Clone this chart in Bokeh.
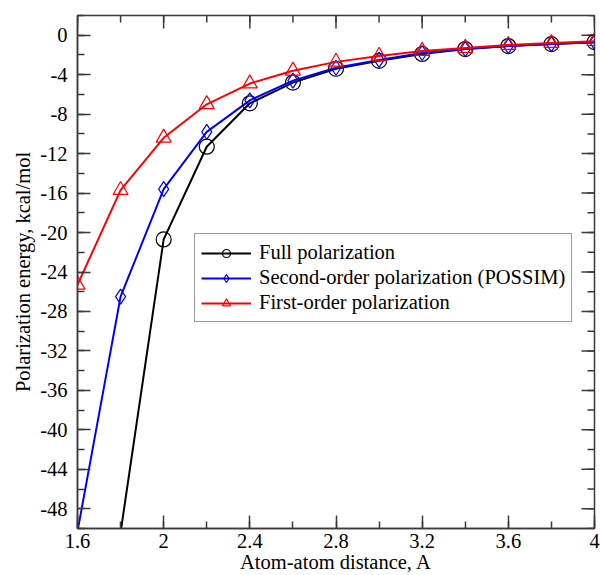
import math
from bokeh.plotting import figure
from bokeh.models import (Range1d, FixedTicker, LinearAxis, Legend, LegendItem,
                          ColumnDataSource, CDSView, BooleanFilter)
from bokeh.embed import file_html
from bokeh.resources import INLINE

# ---------------- data ----------------
distance = [1.6, 1.8, 2.0, 2.2, 2.4, 2.6, 2.8, 3.0, 3.2, 3.4, 3.6, 3.8, 4.0]
full_pol = [float("nan"), -50.4, -20.7, -11.3, -6.9, -4.8, -3.4, -2.6, -1.9, -1.4, -1.1, -0.9, -0.7]
second_pol = [-50.3, -26.5, -15.6, -9.8, -6.6, -4.6, -3.3, -2.5, -1.8, -1.4, -1.1, -0.9, -0.7]
first_pol = [-25.3, -15.7, -10.4, -7.0, -4.9, -3.6, -2.7, -2.1, -1.6, -1.3, -1.0, -0.8, -0.6]

series_names = ["Full polarization", "Second-order polarization (POSSIM)", "First-order polarization"]

x_title = "Atom-atom distance, A"
y_title = "Polarization energy, kcal/mol"

x_ticks = [1.6, 2.0, 2.4, 2.8, 3.2, 3.6, 4.0]
x_tick_labels = ["1.6", "2", "2.4", "2.8", "3.2", "3.6", "4"]
x_minor = [1.6, 1.8, 2.0, 2.2, 2.4, 2.6, 2.8, 3.0, 3.2, 3.4, 3.6, 3.8, 4.0]
y_ticks = [-48, -44, -40, -36, -32, -28, -24, -20, -16, -12, -8, -4, 0]
y_tick_labels = ["-48", "-44", "-40", "-36", "-32", "-28", "-24", "-20", "-16", "-12", "-8", "-4", "0"]
y_minor = [-50, -48, -46, -44, -42, -40, -38, -36, -34, -32, -30, -28, -26, -24, -22, -20,
           -18, -16, -14, -12, -10, -8, -6, -4, -2, 0, 2]

X_MIN, X_MAX = 1.6, 4.0
Y_MIN, Y_MAX = -50, 2

FONT = "Liberation Serif"
FSIZE = "20.5px"
FRAME = "#3a3a3a"
MAJOR_LEN, MINOR_LEN = 13, 7

p = figure(width=600, height=575, title=None,
           min_border_left=77, min_border_right=6, min_border_top=15, min_border_bottom=47,
           x_range=Range1d(X_MIN, X_MAX), y_range=Range1d(Y_MIN, Y_MAX),
           output_backend="svg", toolbar_location=None, x_axis_location=None,
           y_axis_location=None)
p.grid.visible = False
p.outline_line_color = FRAME
p.outline_line_width = 1.5
p.background_fill_color = "white"
p.border_fill_color = "white"


def style_axis(ax, ticks, minor, labels, title):
    ax.ticker = FixedTicker(ticks=ticks, minor_ticks=minor)
    ax.axis_line_color = FRAME
    ax.axis_line_width = 1.5
    ax.major_tick_line_color = FRAME
    ax.minor_tick_line_color = FRAME
    ax.major_tick_line_width = 1.5
    ax.minor_tick_line_width = 1.5
    ax.major_tick_in = MAJOR_LEN
    ax.major_tick_out = 0
    ax.minor_tick_in = MINOR_LEN
    ax.minor_tick_out = 0
    ax.major_label_overrides = {t: l for t, l in zip(ticks, labels)}
    ax.major_label_text_font = FONT
    ax.major_label_text_font_size = FSIZE
    ax.major_label_text_color = "black"
    ax.axis_label = title
    ax.axis_label_text_font = FONT
    ax.axis_label_text_font_size = FSIZE
    ax.axis_label_text_font_style = "normal"
    ax.axis_label_text_color = "black"


xb = LinearAxis(); style_axis(xb, x_ticks, x_minor, x_tick_labels, x_title)
xb.major_label_standoff = 5
xb.axis_label_standoff = 0
yl = LinearAxis(); style_axis(yl, y_ticks, y_minor, y_tick_labels, y_title)
yl.major_label_standoff = 10
yl.axis_label_standoff = 3
p.add_layout(xb, "below")
p.add_layout(yl, "left")

# mirrored inward ticks on the top and right edges (half of each dash is clipped by the frame)
top_major = ColumnDataSource(dict(x=x_ticks, y=[Y_MAX] * len(x_ticks)))
top_minor = ColumnDataSource(dict(x=x_minor, y=[Y_MAX] * len(x_minor)))
right_major = ColumnDataSource(dict(x=[X_MAX] * len(y_ticks), y=y_ticks))
right_minor = ColumnDataSource(dict(x=[X_MAX] * len(y_minor), y=y_minor))
p.scatter("x", "y", source=top_major, marker="dash", angle=math.pi / 2, size=2 * MAJOR_LEN,
          line_color=FRAME, line_width=1.5)
p.scatter("x", "y", source=top_minor, marker="dash", angle=math.pi / 2, size=2 * MINOR_LEN,
          line_color=FRAME, line_width=1.5)
p.scatter("x", "y", source=right_major, marker="dash", size=2 * MAJOR_LEN,
          line_color=FRAME, line_width=1.5)
p.scatter("x", "y", source=right_minor, marker="dash", size=2 * MINOR_LEN,
          line_color=FRAME, line_width=1.5)

colors = ["black", "#0000ff", "#ff0000"]
markers = ["circle", "diamond", "triangle"]
items = []
for ys, name, col, mk in zip([full_pol, second_pol, first_pol], series_names, colors, markers):
    src = ColumnDataSource(dict(x=distance, y=ys))
    lr = p.line("x", "y", source=src, line_color=col, line_width=2)
    inside = [(not math.isnan(v)) and v >= Y_MIN for v in ys]
    view = CDSView(filter=BooleanFilter(inside))
    sr = p.scatter("x", "y", source=src, view=view, marker=mk, size=15,
                   fill_color=None, line_color=col, line_width=1.2)
    items.append(LegendItem(label=name, renderers=[lr, sr]))

legend = Legend(items=items, location=(117, 206), orientation="vertical",
                label_text_font=FONT, label_text_font_size=FSIZE, label_text_color="black",
                glyph_width=50, glyph_height=20, label_height=25, label_standoff=8,
                spacing=0, padding=6, margin=0,
                border_line_color=FRAME, border_line_width=1.5,
                background_fill_color="white", background_fill_alpha=1)
p.add_layout(legend, "center")

open("out.html", "w").write(file_html(p, INLINE))
